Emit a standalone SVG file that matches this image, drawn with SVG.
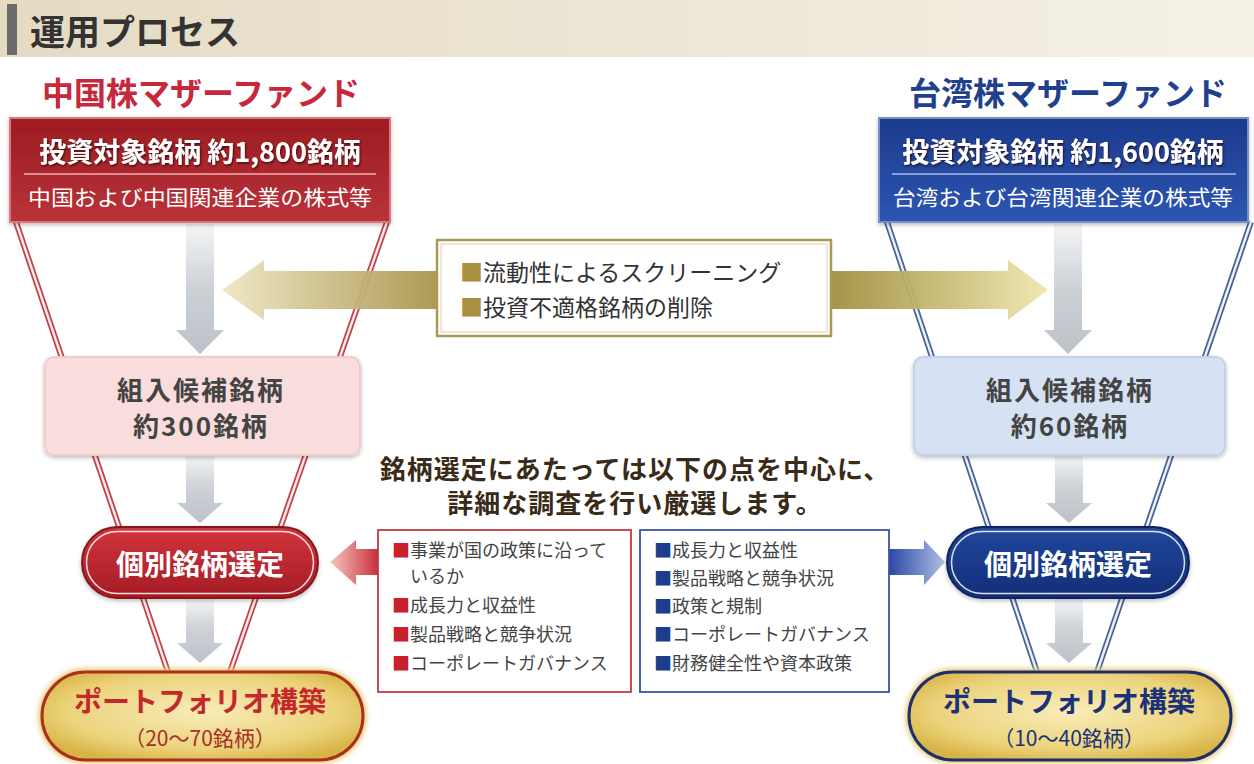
<svg xmlns="http://www.w3.org/2000/svg" width="1254" height="764" viewBox="0 0 1254 764">
<defs>
<style>
text{font-family:"Noto Sans CJK JP","Noto Sans",sans-serif}
.b{font-weight:bold}
.w{fill:#fff}
.g{fill:#444}
.ctr{text-anchor:middle}
.fr{fill:none;stroke:#c4424a;stroke-width:6}
.fb{fill:none;stroke:#4a6496;stroke-width:6}
.fi{fill:none;stroke:#fbeeee;stroke-width:2.4}
.fj{fill:none;stroke:#eef2fa;stroke-width:2.4}
.arr{fill:url(#gray)}
.li{font-size:18px;fill:#444}
.cand{font-size:26px;letter-spacing:2px}
</style>
<linearGradient id="hdr" x1="0" x2="1" y1="0" y2="0"><stop offset="0" stop-color="#e5dbc3"/><stop offset="1" stop-color="#f5f1e7"/></linearGradient>
<linearGradient id="redbox" x1="0" x2="0" y1="0" y2="1"><stop offset="0" stop-color="#9c1c22"/><stop offset="1" stop-color="#b9333a"/></linearGradient>
<linearGradient id="bluebox" x1="0" x2="0" y1="0" y2="1"><stop offset="0" stop-color="#1c3a8c"/><stop offset="1" stop-color="#2d56b2"/></linearGradient>
<linearGradient id="gray" x1="0" x2="0" y1="0" y2="1"><stop offset="0" stop-color="#f4f5f7"/><stop offset="0.5" stop-color="#ccd1d6"/><stop offset="1" stop-color="#bcc2c8"/></linearGradient>
<linearGradient id="gold" x1="222" x2="1048" y1="0" y2="0" gradientUnits="userSpaceOnUse"><stop offset="0" stop-color="#efe7c4"/><stop offset="0.26" stop-color="#a9954c"/><stop offset="0.74" stop-color="#a0903e"/><stop offset="1" stop-color="#f0e6b0"/></linearGradient>
<linearGradient id="redarr" x1="330" x2="378" y1="0" y2="0" gradientUnits="userSpaceOnUse"><stop offset="0" stop-color="#f6c8c0"/><stop offset="1" stop-color="#c8303a"/></linearGradient>
<linearGradient id="bluearr" x1="889" x2="945" y1="0" y2="0" gradientUnits="userSpaceOnUse"><stop offset="0" stop-color="#2a48a6"/><stop offset="1" stop-color="#b0bfe4"/></linearGradient>
<linearGradient id="redpill" x1="0" x2="0" y1="0" y2="1"><stop offset="0" stop-color="#d2343c"/><stop offset="1" stop-color="#a51c24"/></linearGradient>
<linearGradient id="bluepill" x1="0" x2="0" y1="0" y2="1"><stop offset="0" stop-color="#23479c"/><stop offset="1" stop-color="#122e78"/></linearGradient>
<radialGradient id="goldpill" cx="0.5" cy="0.45" r="0.6"><stop offset="0" stop-color="#f8ecb8"/><stop offset="0.7" stop-color="#ecd37c"/><stop offset="1" stop-color="#d8b446"/></radialGradient>
<filter id="sh" x="-10%" y="-10%" width="120%" height="130%"><feDropShadow dx="0" dy="2" stdDeviation="2" flood-color="#000" flood-opacity="0.25"/></filter>
<filter id="ts" x="-5%" y="-20%" width="110%" height="140%"><feDropShadow dx="1" dy="1.5" stdDeviation="1" flood-color="#300" flood-opacity="0.8"/></filter>
<filter id="glow" x="-10%" y="-20%" width="120%" height="140%"><feGaussianBlur stdDeviation="2.5"/></filter>
</defs>

<rect x="0" y="0" width="1254" height="764" fill="#fff"/>

<g id="header">
<rect x="0" y="0" width="1254" height="57" fill="url(#hdr)"/>
<rect x="7" y="4" width="10" height="51" fill="#6b6b6b"/>
<text x="30" y="45" class="b" font-size="35" fill="#333">運用プロセス</text>
</g>

<g id="connectors">
<!-- funnel lines -->
<line class="fr" x1="16" y1="222" x2="168" y2="672"/><line class="fi" x1="16" y1="222" x2="168" y2="672"/>
<line class="fr" x1="387" y1="222" x2="230" y2="672"/><line class="fi" x1="387" y1="222" x2="230" y2="672"/>
<line class="fb" x1="887" y1="222" x2="1037" y2="672"/><line class="fj" x1="887" y1="222" x2="1037" y2="672"/>
<line class="fb" x1="1251" y1="222" x2="1097" y2="672"/><line class="fj" x1="1251" y1="222" x2="1097" y2="672"/>
<!-- gray down arrows left -->
<path class="arr" d="M186,224 H214 V330 H224 L200,354 L176,330 H186 Z"/>
<path class="arr" d="M186,455 H214 V503 H223 L200,523 L177,503 H186 Z"/>
<path class="arr" d="M186,598 H214 V643 H223 L200,663 L177,643 H186 Z"/>
<!-- gray down arrows right -->
<path class="arr" d="M1054,224 H1082 V330 H1092 L1068,354 L1044,330 H1054 Z"/>
<path class="arr" d="M1055,455 H1083 V503 H1092 L1069,523 L1046,503 H1055 Z"/>
<path class="arr" d="M1055,598 H1083 V643 H1092 L1069,663 L1046,643 H1055 Z"/>
<!-- gold double arrow -->
<path d="M222,290 L264,260 L264,271 L1008,271 L1008,260 L1048,290 L1008,320 L1008,309 L264,309 L264,320 Z" fill="url(#gold)" opacity="0.95"/>
<!-- red & blue side arrows -->
<path d="M330,562 L356,540 L356,549 L379,549 L379,575 L356,575 L356,585 Z" fill="url(#redarr)"/>
<path d="M888,549 L924,549 L924,540 L945,562 L924,585 L924,575 L888,575 Z" fill="url(#bluearr)"/>
</g>

<g id="cn-title">
<text x="201" y="105" class="b ctr" font-size="32" fill="#c8283c">中国株マザーファンド</text>
</g>
<g id="tw-title">
<text x="1068" y="105" class="b ctr" font-size="32" fill="#1f3f8f">台湾株マザーファンド</text>
</g>

<g id="cn-universe">
<rect x="10" y="118" width="380" height="104" fill="url(#redbox)" stroke="#d87878" stroke-width="2" filter="url(#sh)"/>
<text x="200" y="162" class="b ctr w" font-size="27" filter="url(#ts)">投資対象銘柄 約1,800銘柄</text>
<line x1="24" y1="174" x2="376" y2="174" stroke="#f0b0b0" stroke-width="1.5"/>
<text x="200" y="205" class="ctr w" font-size="21" textLength="344" lengthAdjust="spacingAndGlyphs">中国および中国関連企業の株式等</text>
</g>
<g id="tw-universe">
<rect x="879" y="118" width="369" height="104" fill="url(#bluebox)" stroke="#7890c8" stroke-width="2" filter="url(#sh)"/>
<text x="1063" y="162" class="b ctr w" font-size="27" filter="url(#ts)">投資対象銘柄 約1,600銘柄</text>
<line x1="892" y1="174" x2="1236" y2="174" stroke="#a8bce8" stroke-width="1.5"/>
<text x="1063" y="205" class="ctr w" font-size="21" textLength="340" lengthAdjust="spacingAndGlyphs">台湾および台湾関連企業の株式等</text>
</g>

<g id="screening">
<rect x="437" y="240" width="394" height="96" fill="#fff" stroke="#ab9a55" stroke-width="2.5"/>
<rect x="441" y="244" width="386" height="88" fill="none" stroke="#ddd3a8" stroke-width="1"/>
<text x="460" y="281" font-size="23" fill="#333"><tspan fill="#a89040">■</tspan>流動性によるスクリーニング</text>
<text x="460" y="316" font-size="23" fill="#333"><tspan fill="#a89040">■</tspan>投資不適格銘柄の削除</text>
</g>

<g id="cn-candidates">
<rect x="45" y="357" width="315" height="98" rx="9" fill="#f9dcdc" stroke="#f3caca" stroke-width="2" filter="url(#sh)"/>
<text x="201" y="400" class="b ctr g cand">組入候補銘柄</text>
<text x="201" y="436" class="b ctr g cand">約300銘柄</text>
</g>
<g id="tw-candidates">
<rect x="914" y="357" width="311" height="98" rx="9" fill="#d6e1f3" stroke="#c3d1ea" stroke-width="2" filter="url(#sh)"/>
<text x="1070" y="400" class="b ctr g cand">組入候補銘柄</text>
<text x="1070" y="436" class="b ctr g cand">約60銘柄</text>
</g>

<g id="selection-note">
<text x="635" y="479" class="b ctr" font-size="26" letter-spacing="1" fill="#3a2a18">銘柄選定にあたっては以下の点を中心に、</text>
<text x="635" y="513" class="b ctr" font-size="26" letter-spacing="1" fill="#3a2a18">詳細な調査を行い厳選します。</text>
</g>

<g id="cn-criteria">
<rect x="378" y="530" width="253" height="162" fill="#fff" stroke="#c23a48" stroke-width="1.8"/>
<text x="392" y="557" class="li"><tspan fill="#c8202c">■</tspan>事業が国の政策に沿って</text>
<text x="410" y="583" class="li">いるか</text>
<text x="392" y="612" class="li"><tspan fill="#c8202c">■</tspan>成長力と収益性</text>
<text x="392" y="641" class="li"><tspan fill="#c8202c">■</tspan>製品戦略と競争状況</text>
<text x="392" y="670" class="li"><tspan fill="#c8202c">■</tspan>コーポレートガバナンス</text>
</g>
<g id="tw-criteria">
<rect x="640" y="530" width="249" height="162" fill="#fff" stroke="#3a54a0" stroke-width="1.8"/>
<text x="654" y="557" class="li"><tspan fill="#1c3c8c">■</tspan>成長力と収益性</text>
<text x="654" y="585" class="li"><tspan fill="#1c3c8c">■</tspan>製品戦略と競争状況</text>
<text x="654" y="613" class="li"><tspan fill="#1c3c8c">■</tspan>政策と規制</text>
<text x="654" y="641" class="li"><tspan fill="#1c3c8c">■</tspan>コーポレートガバナンス</text>
<text x="654" y="670" class="li"><tspan fill="#1c3c8c">■</tspan>財務健全性や資本政策</text>
</g>

<g id="cn-select">
<rect x="82" y="527" width="236" height="71" rx="35.5" fill="url(#redpill)" stroke="#8a161c" stroke-width="2" filter="url(#sh)"/>
<rect x="86.5" y="531.5" width="227" height="62" rx="31" fill="none" stroke="#fff" stroke-width="1.5" opacity="0.85"/>
<text x="200" y="575" class="b ctr w" font-size="28">個別銘柄選定</text>
</g>
<g id="tw-select">
<rect x="947" y="527" width="242" height="71" rx="35.5" fill="url(#bluepill)" stroke="#0e2460" stroke-width="2" filter="url(#sh)"/>
<rect x="951.5" y="531.5" width="233" height="62" rx="31" fill="none" stroke="#fff" stroke-width="1.5" opacity="0.85"/>
<text x="1068" y="575" class="b ctr w" font-size="28">個別銘柄選定</text>
</g>

<g id="cn-portfolio">
<rect x="42" y="672" width="321" height="88" rx="44" fill="none" stroke="#e8c870" stroke-width="7" filter="url(#glow)"/>
<rect x="42" y="672" width="321" height="88" rx="44" fill="url(#goldpill)" stroke="#a8301e" stroke-width="3"/>
<text x="200" y="712" class="b ctr" font-size="28" fill="#c4282c">ポートフォリオ構築</text>
<text x="200" y="746" class="ctr" font-size="21" fill="#a83028">（20～70銘柄）</text>
</g>
<g id="tw-portfolio">
<rect x="909" y="672" width="322" height="88" rx="44" fill="none" stroke="#e8c870" stroke-width="7" filter="url(#glow)"/>
<rect x="909" y="672" width="322" height="88" rx="44" fill="url(#goldpill)" stroke="#1c2f6c" stroke-width="3"/>
<text x="1069" y="712" class="b ctr" font-size="28" fill="#1c3278">ポートフォリオ構築</text>
<text x="1069" y="746" class="ctr" font-size="21" fill="#1c3278">（10～40銘柄）</text>
</g>
</svg>
